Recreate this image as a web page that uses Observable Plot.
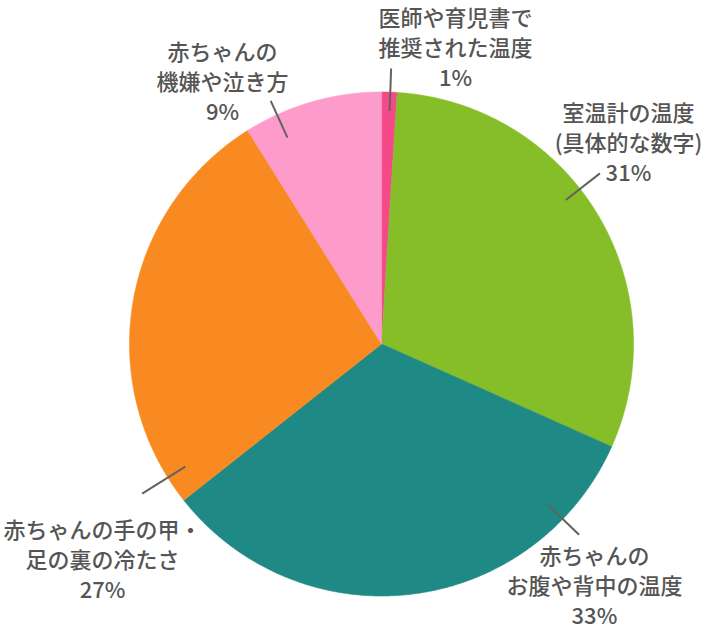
<!DOCTYPE html>
<html><head><meta charset="utf-8">
<script src="https://cdn.jsdelivr.net/npm/d3@7"></script>
<script src="https://cdn.jsdelivr.net/npm/@observablehq/plot@0.6"></script>
<style>body{margin:0;background:#fff}</style>
</head><body><div id="chart"></div>
<script>
// ---- data ----
const categories = ["医師や育児書で推奨された温度", "室温計の温度(具体的な数字)", "赤ちゃんのお腹や背中の温度", "赤ちゃんの手の甲・足の裏の冷たさ", "赤ちゃんの機嫌や泣き方"];
const labelLines = [["医師や育児書で", "推奨された温度"], ["室温計の温度", "(具体的な数字)"], ["赤ちゃんの", "お腹や背中の温度"], ["赤ちゃんの手の甲・", "足の裏の冷たさ"], ["赤ちゃんの", "機嫌や泣き方"]];
const values = [1, 31, 33, 27, 9];
const colors = ["#f64a88", "#86be2a", "#1f8985", "#f98a22", "#fd9ccb"];

// ---- layout (unit-circle coordinates) ----
const leaderAngles = [2, 52, 134, 238, 335.5];
const leaderInner = [0.925, 0.928, 0.92, 0.918, 0.9];
const leaderOuter = [1.094, 1.1, 1.09, 1.12, 1.06];
const labelPos = [[0.294, -1.181], [0.98, -0.804], [0.845, 0.955], [-1.107, 0.851], [-0.631, -1.046]];

const arcs = d3.pie().sort(null).value(d => d)(values);
const slicePts = [];
arcs.forEach((a, i) => {
  slicePts.push({k: i, x: 0, y: 0, c: colors[i]});
  const n = Math.max(4, Math.ceil((a.endAngle - a.startAngle) / (Math.PI / 720)));
  for (let j = 0; j <= n; j++) {
    const t = a.startAngle + (a.endAngle - a.startAngle) * j / n;
    slicePts.push({k: i, x: Math.sin(t), y: -Math.cos(t), c: colors[i]});
  }
  slicePts.push({k: i, x: 0, y: 0, c: colors[i]});
});

const rad = d => d * Math.PI / 180;
const leaders = categories.map((c, i) => ({
  x1: leaderInner[i] * Math.sin(rad(leaderAngles[i])), y1: -leaderInner[i] * Math.cos(rad(leaderAngles[i])),
  x2: leaderOuter[i] * Math.sin(rad(leaderAngles[i])), y2: -leaderOuter[i] * Math.cos(rad(leaderAngles[i]))
}));
const labels = categories.map((c, i) => ({
  x: labelPos[i][0], y: labelPos[i][1],
  text: labelLines[i].join("\n") + "\n" + values[i] + "%"
}));

const chart = Plot.plot({
  width: 710, height: 630, margin: 0,
  x: {domain: [-1, 1], range: [129, 633], axis: null},
  y: {domain: [-1, 1], range: [91.5, 595.5], axis: null},
  color: {type: "identity"},
  style: {fontFamily: "'Noto Sans CJK JP', 'Noto Sans', sans-serif", background: "#fff"},
  marks: [
    Plot.line(slicePts, {x: "x", y: "y", z: "k", fill: "c", stroke: "c", strokeWidth: 0.6, curve: "linear"}),
    Plot.link(leaders, {x1: "x1", y1: "y1", x2: "x2", y2: "y2", stroke: "#626262", strokeWidth: 2}),
    Plot.text(labels, {x: "x", y: "y", text: "text", fontSize: 22, fontWeight: 500, fill: "#555555", lineHeight: 1.36, textAnchor: "middle", lineAnchor: "middle", fontFamily: "'Noto Sans CJK JP', sans-serif"})
  ]
});
document.getElementById("chart").appendChild(chart);
</script>
</body></html>
